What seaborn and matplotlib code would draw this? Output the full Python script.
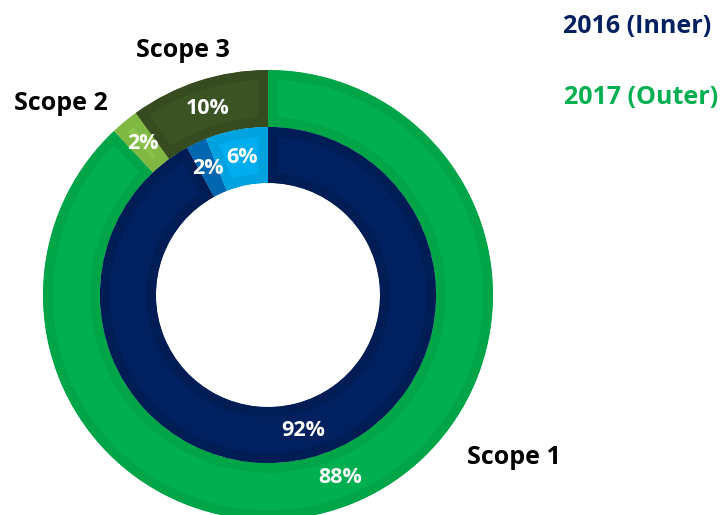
import matplotlib
matplotlib.use("Agg")
import matplotlib.pyplot as plt
import seaborn as sns

sns.set_theme(style="white")
plt.rcParams['font.family'] = ['Open Sans', 'DejaVu Sans']

# data
scopes = ['Scope 1', 'Scope 2', 'Scope 3']
share_2016 = [92, 2, 6]    # inner ring
share_2017 = [88, 2, 10]   # outer ring

inner_colors = ['#002060', '#0070C0', '#00AEEF']
inner_frames = ['#001C55', '#0066B0', '#00A2E0']
outer_colors = ['#00B050', '#8BC34A', '#3B5323']
outer_frames = ['#00A548', '#80B844', '#364C20']

fig = plt.figure(figsize=(7.21, 5.15), dpi=100)
ax = fig.add_axes([0, 0, 1, 1])

R_OUT = 1.0
R_MID = 168 / 225
R_HOLE = 112 / 225

pct_style = dict(color='white', fontsize=15.5, fontweight='bold')
w_out, t_out, a_out = ax.pie(share_2017, radius=R_OUT, colors=outer_colors,
                             startangle=90, counterclock=False,
                             wedgeprops=dict(width=R_OUT - R_MID, linewidth=0),
                             autopct='%.0f%%', pctdistance=(R_OUT + R_MID) / 2 / R_OUT,
                             textprops=pct_style)
w_in, t_in, a_in = ax.pie(share_2016, radius=R_MID, colors=inner_colors,
                          startangle=90, counterclock=False,
                          wedgeprops=dict(width=R_MID - R_HOLE, linewidth=0),
                          autopct='%.0f%%', pctdistance=(R_MID + R_HOLE) / 2 / R_MID,
                          textprops=pct_style)

# bevel-like darker frame inside each wedge
for wedges, frames in [(w_out, outer_frames), (w_in, inner_frames)]:
    for w, fc in zip(wedges, frames):
        w.set_edgecolor(fc)
        w.set_linewidth(14)
        w.set_clip_on(True)
        w.set_clip_path(w)

ax.set_aspect('auto')
ax.set_xlim(-268 / 225, (721 - 268) / 225)
ax.set_ylim(-(515 - 295) / 225, 295 / 225)
ax.axis('off')

# category labels
lab = dict(transform=ax.transAxes, fontsize=18, fontweight='bold',
           color='black', ha='center', va='center')
ax.text(0.254, 0.901, 'Scope 3', **lab)
ax.text(0.085, 0.800, 'Scope 2', **lab)
ax.text(0.713, 0.111, 'Scope 1', **lab)

# legend texts
ax.text(0.884, 0.948, '2016 (Inner)', transform=ax.transAxes, fontsize=18,
        fontweight='bold', color='#002060', ha='center', va='center')
ax.text(0.889, 0.810, '2017 (Outer)', transform=ax.transAxes, fontsize=18,
        fontweight='bold', color='#00B050', ha='center', va='center')

fig.savefig('out.png', dpi=100)
